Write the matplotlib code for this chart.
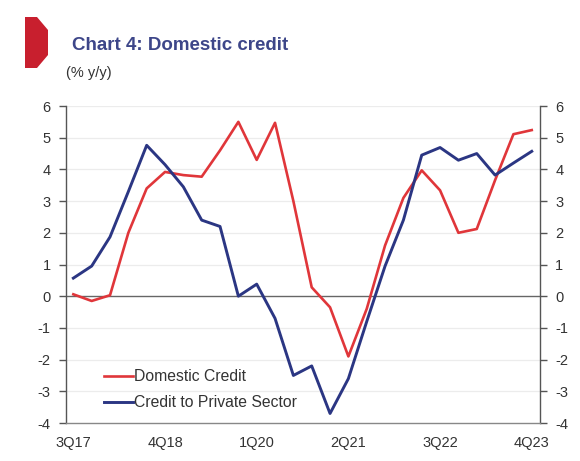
import matplotlib.pyplot as plt
from matplotlib.patches import Polygon

# Quarterly data, 3Q17 .. 4Q23 (% y/y)
quarters = ["3Q17", "4Q17", "1Q18", "2Q18", "3Q18", "4Q18", "1Q19", "2Q19", "3Q19",
            "4Q19", "1Q20", "2Q20", "3Q20", "4Q20", "1Q21", "2Q21", "3Q21", "4Q21",
            "1Q22", "2Q22", "3Q22", "4Q22", "1Q23", "2Q23", "3Q23", "4Q23"]
domestic_credit = [0.06, -0.15, 0.03, 2.0, 3.4, 3.92, 3.82, 3.77, 4.6, 5.5, 4.3, 5.47, 3.0,
                   0.28, -0.35, -1.9, -0.4, 1.6, 3.1, 3.97, 3.34, 2.0, 2.12, 3.66, 5.11, 5.24]
private_credit = [0.57, 0.95, 1.87, 3.3, 4.76, 4.15, 3.45, 2.4, 2.2, 0.0, 0.38, -0.7, -2.5,
                  -2.2, -3.7, -2.6, -0.8, 0.95, 2.4, 4.45, 4.69, 4.29, 4.5, 3.82, 4.2, 4.57]
tick_labels = ["3Q17", "4Q18", "1Q20", "2Q21", "3Q22", "4Q23"]
y_ticks = [-4, -3, -2, -1, 0, 1, 2, 3, 4, 5, 6]

plt.rcParams['font.family'] = ['Liberation Sans', 'DejaVu Sans']

red = '#e0363a'
navy = '#2b3683'
text_col = '#333333'
spine_col = '#555555'

fig = plt.figure(figsize=(5.8, 4.61), dpi=100)
ax = fig.add_axes([66 / 580, 1 - 423 / 461, (540 - 66) / 580, (423 - 106) / 461])

x = list(range(len(quarters)))
ax.plot(x, domestic_credit, color=red, lw=1.9, label='Domestic Credit', zorder=3)
ax.plot(x, private_credit, color=navy, lw=2.1, label='Credit to Private Sector', zorder=4)

ax.set_xlim(-0.4, 25.45)
ax.set_ylim(-4, 6)
ax.set_yticks(y_ticks)
ax.set_yticklabels([str(v) for v in y_ticks])
ax.set_xticks([quarters.index(q) for q in tick_labels])
ax.set_xticklabels(tick_labels)

# gridlines and zero line
for v in y_ticks:
    if v == 0:
        ax.axhline(0, color='#666666', lw=1.0, zorder=2)
    elif v != -4:
        ax.axhline(v, color='#ececec', lw=0.9, zorder=1)

ax.spines['top'].set_visible(False)
for side in ['left', 'right', 'bottom']:
    ax.spines[side].set_color(spine_col)
    ax.spines[side].set_linewidth(1.0)
ax.spines['bottom'].set_color('#888888')

ax.tick_params(axis='y', which='both', left=True, right=True, labelleft=True, labelright=True,
               direction='out', length=5, width=1.0, color=spine_col, labelsize=10.5,
               labelcolor=text_col, pad=6)
ax.tick_params(axis='x', length=0, labelsize=10.5, labelcolor=text_col, pad=9)

leg = ax.legend(loc='lower left', bbox_to_anchor=(0.05, -0.005), frameon=False, fontsize=11.3,
                handlelength=1.85, handletextpad=0.08, labelspacing=0.72, labelcolor=text_col)

# title block
fig.text(72 / 580, 1 - 45 / 461, 'Chart 4: Domestic credit', fontsize=13.5, fontweight='bold',
         color='#3d4689', va='center', ha='left')
fig.text(66 / 580, 1 - 73 / 461, '(% y/y)', fontsize=10.5, color=text_col, va='center', ha='left')

# red marker shape in the corner
pts = [(25, 17), (37, 17), (48, 30), (48, 55), (37, 68), (25, 68)]
fig.patches.append(Polygon([(px / 580, 1 - py / 461) for px, py in pts], closed=True,
                           transform=fig.transFigure, facecolor='#c81f2e', edgecolor='none'))

fig.savefig('out.png', dpi=100)
